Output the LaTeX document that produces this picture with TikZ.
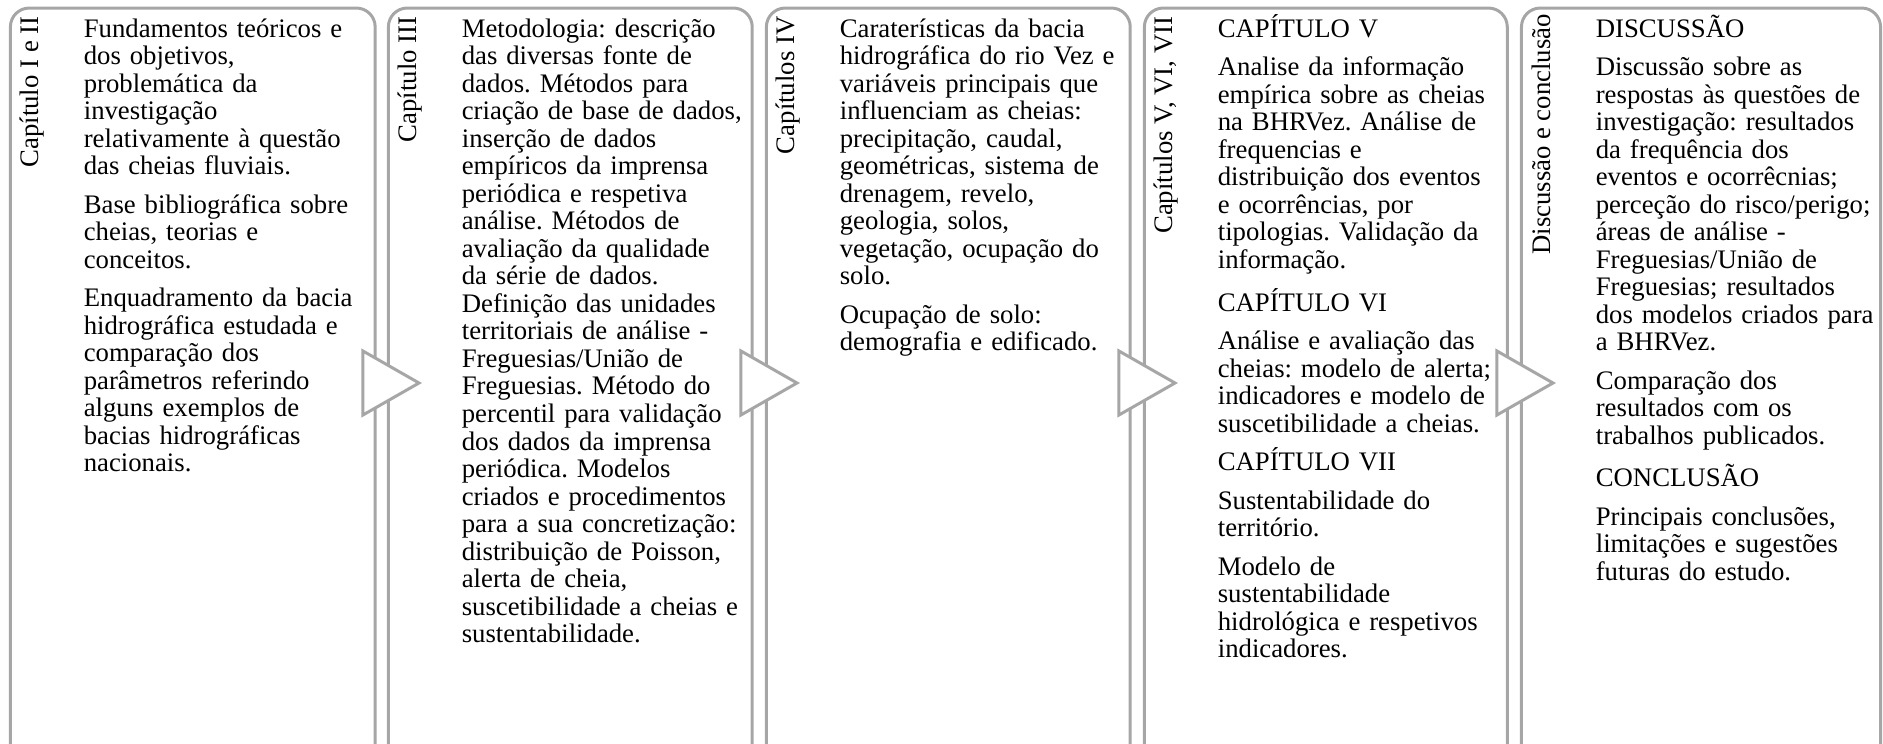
\documentclass[tikz,border=0pt]{standalone}
\usepackage{fontspec}
\setmainfont{Liberation Serif}
\usepackage{tikz}
\definecolor{framegray}{RGB}{166,166,166}
\frenchspacing

\begin{document}
\begin{tikzpicture}
    \tikzstyle{chapbox} = [draw=framegray, line width=0.9pt, rounded corners=0.2cm]
    \tikzstyle{chevron} = [draw=framegray, line width=0.9pt, fill=white, line join=miter]
    \tikzstyle{sidelabel} = [rotate=90, anchor=base east, inner sep=0pt, font=\fontsize{8.05}{8.29}\selectfont]
    \tikzstyle{bodytext} = [anchor=base west, text width=3.1cm, align=left, inner sep=0pt, font=\fontsize{8.05}{8.29}\selectfont\frenchspacing]

    \useasboundingbox (0,0) rectangle (19.926,7.873);
    \clip (0,0) rectangle (19.926,7.873);

    % Chapter boxes (bottom runs off the page)
    \foreach \l/\r in {0.11/3.97, 4.11/7.96, 8.11/11.96, 12.11/15.95, 16.10/19.90} {
        \draw[chapbox] (\l,-0.3) rectangle (\r,7.788);
    }

    % Arrows between boxes
    \foreach \x in {0,...,3} {
        \draw[chevron] (\x*4+3.84,4.159) -- (\x*4+4.434,3.82) -- (\x*4+3.84,3.481) -- cycle;
    }

    % Side labels
    \node[sidelabel] (lab1) at (0.41,7.704) {Capítulo I e II};
    \node[sidelabel] (lab2) at (4.41,7.704) {Capítulo III};
    \node[sidelabel] (lab3) at (8.41,7.704) {Capítulos IV};
    \node[sidelabel] (lab4) at (12.41,7.704) {Capítulos V, VI, VII};
    \node[sidelabel] (lab5) at (16.41,7.730) {Discussão e conclusão};

    % Box contents
    \node[bodytext] (txt1) at (0.88,7.481) {Fundamentos teóricos e\\ dos objetivos,\\ problemática da\\ investigação\\ relativamente à questão\\ das cheias fluviais.\\[3.3pt]
        Base bibliográfica sobre\\ cheias, teorias e\\ conceitos.\\[3.3pt]
        Enquadramento da bacia\\ hidrográfica estudada e\\ comparação dos\\ parâmetros referindo\\ alguns exemplos de\\ bacias hidrográficas\\ nacionais.};
    \node[bodytext] (txt2) at (4.88,7.481) {Metodologia: descrição\\ das diversas fonte de\\ dados. Métodos para\\ criação de base de dados,\\ inserção de dados\\ empíricos da imprensa\\ periódica e respetiva\\ análise. Métodos de\\ avaliação da qualidade\\ da série de dados.\\ Definição das unidades\\ territoriais de análise -\\ Freguesias/União de\\ Freguesias. Método do\\ percentil para validação\\ dos dados da imprensa\\ periódica. Modelos\\ criados e procedimentos\\ para a sua concretização:\\ distribuição de Poisson,\\ alerta de cheia,\\ suscetibilidade a cheias e\\ sustentabilidade.};
    \node[bodytext] (txt3) at (8.88,7.481) {Caraterísticas da bacia\\ hidrográfica do rio Vez e\\ variáveis principais que\\ influenciam as cheias:\\ precipitação, caudal,\\ geométricas, sistema de\\ drenagem, revelo,\\ geologia, solos,\\ vegetação, ocupação do\\ solo.\\[3.3pt]
        Ocupação de solo:\\ demografia e edificado.};
    \node[bodytext] (txt4) at (12.88,7.481) {CAPÍTULO V\\[3.3pt]
        Analise da informação\\ empírica sobre as cheias\\ na BHRVez. Análise de\\ frequencias e\\ distribuição dos eventos\\ e ocorrências, por\\ tipologias. Validação da\\ informação.\\[3.3pt]
        CAPÍTULO VI\\[3.3pt]
        Análise e avaliação das\\ cheias: modelo de alerta;\\ indicadores e modelo de\\ suscetibilidade a cheias.\\[3.3pt]
        CAPÍTULO VII\\[3.3pt]
        Sustentabilidade do\\ território.\\[3.3pt]
        Modelo de\\ sustentabilidade\\ hidrológica e respetivos\\ indicadores.};
    \node[bodytext] (txt5) at (16.88,7.481) {DISCUSSÃO\\[3.3pt]
        Discussão sobre as\\ respostas às questões de\\ investigação: resultados\\ da frequência dos\\ eventos e ocorrêcnias;\\ perceção do risco/perigo;\\ áreas de análise -\\ Freguesias/União de\\ Freguesias; resultados\\ dos modelos criados para\\ a BHRVez.\\[3.3pt]
        Comparação dos\\ resultados com os\\ trabalhos publicados.\\[3.3pt]
        CONCLUSÃO\\[3.3pt]
        Principais conclusões,\\ limitações e sugestões\\ futuras do estudo.};
\end{tikzpicture}
\end{document}
